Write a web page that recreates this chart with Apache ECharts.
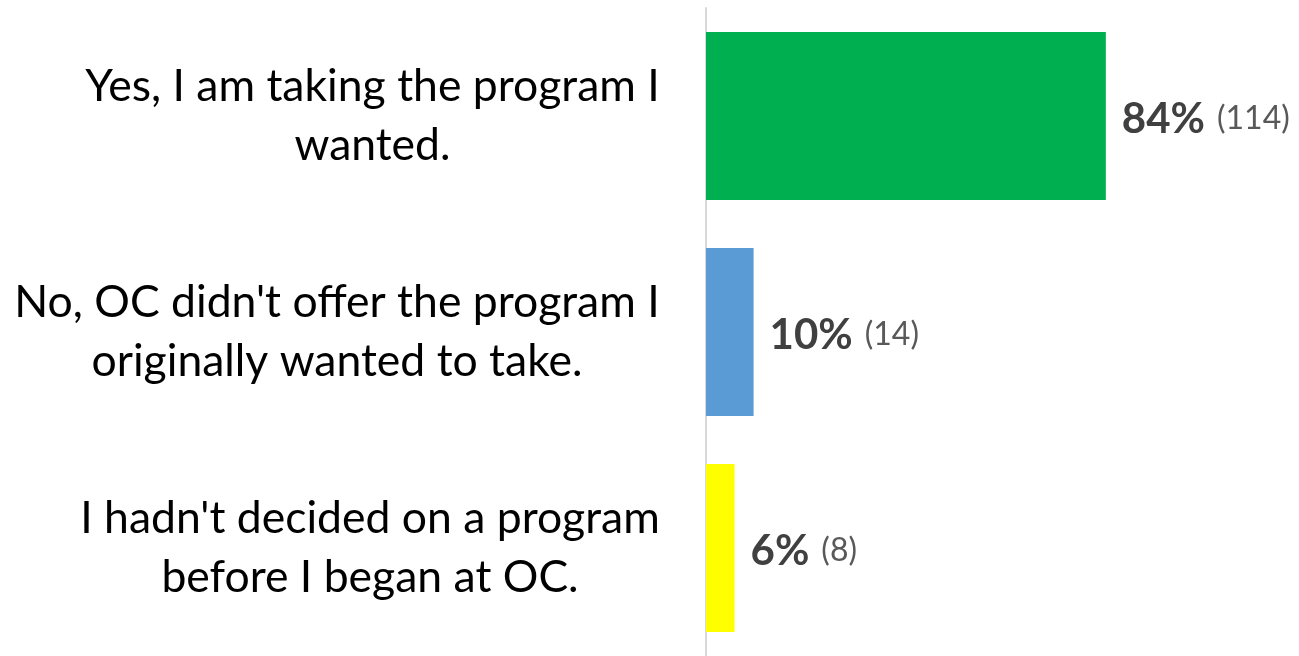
<!DOCTYPE html>
<html>
<head>
<meta charset="utf-8">
<script src="https://cdn.jsdelivr.net/npm/echarts@6/dist/echarts.min.js"></script>
<style>
  html, body { margin: 0; padding: 0; background: #fff; }
  #chart { width: 1299px; height: 656px; }
</style>
</head>
<body>
<div id="chart"></div>
<script>
  // answers, as lines of the wrapped label
  var categories = [
    'Yes, I am taking the program I\nwanted.',
    "No, OC didn't offer the program I\noriginally wanted to take.",
    "I hadn't decided on a program\nbefore I began at OC."
  ]
  var percents = [84, 10, 6]
  var counts = [114, 14, 8]
  var colors = ['#00b050', '#5b9bd5', '#ffff00']

  var catFont = '44.5px Lato'

  // each label is a block: right edge at the axis, lines centred inside it
  var ctx = document.createElement('canvas').getContext('2d')
  ctx.font = catFont
  var catRich = {}
  categories.forEach(function(c, i) {
    var w = 0
    c.split('\n').forEach(function(l) {
      w = Math.max(w, ctx.measureText(l).width)
    })
    catRich['c' + i] = {
      width: Math.ceil(w),
      align: 'center',
      fontFamily: 'Lato',
      fontSize: 44.5,
      lineHeight: 59,
      color: '#000'
    }
  })

  var chart = echarts.init(document.getElementById('chart'))

  var options = {
    animation: false,
    grid: {
      left: 706,
      right: 117,
      top: 8,
      bottom: -4
    },
    xAxis: {
      type: 'value',
      min: 0,
      max: 100,
      show: false
    },
    yAxis: {
      type: 'category',
      inverse: true,
      data: categories,
      axisTick: { show: false },
      axisLine: {
        show: true,
        lineStyle: { color: '#d9d9d9', width: 2 }
      },
      axisLabel: {
        margin: 46,
        formatter: function(val, idx) {
          return val.split('\n').map(function(l) { return '{c' + idx + '|' + l + '}' }).join('\n')
        },
        rich: catRich
      }
    },
    series: [{
      type: 'bar',
      barWidth: 168,
      data: percents.map(function(v, i) {
        return { value: v, itemStyle: { color: colors[i] } }
      }),
      label: {
        show: true,
        position: 'right',
        distance: 16,
        offset: [0, 3],
        formatter: function(p) {
          return '{b|' + p.value + '%}{n|(' + counts[p.dataIndex] + ')}'
        },
        rich: {
          b: { fontFamily: 'Lato', fontWeight: 'bold', fontSize: 42, color: '#404040' },
          n: { fontFamily: 'Lato', fontSize: 32, color: '#595959', padding: [0, 0, 0, 12] }
        }
      }
    }]
  }

  chart.setOption(options, true)
</script>
</body>
</html>
